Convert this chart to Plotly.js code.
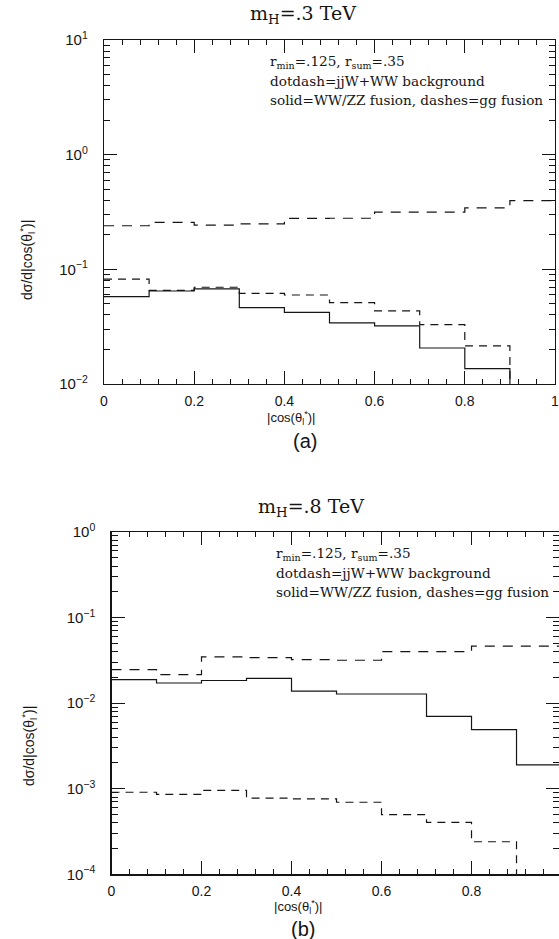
<!DOCTYPE html>
<html><head><meta charset="utf-8">
<script src="https://cdn.plot.ly/plotly-3.0.1.min.js"></script>
<style>html,body{margin:0;padding:0;background:#fff;} #chart{width:559px;height:939px;}</style>
</head><body><div id="chart"></div>
<script>
// ---- data ----
const binEdges = [0, 0.1, 0.2, 0.3, 0.4, 0.5, 0.6, 0.7, 0.8, 0.9, 1.0];

// panel (a): m_H = .3 TeV
const topBackground = [0.240, 0.257, 0.243, 0.249, 0.278, 0.279, 0.316, 0.316, 0.343, 0.397];
const topWWZZ       = [0.0577, 0.0647, 0.0675, 0.0463, 0.0422, 0.0341, 0.0321, 0.0206, 0.0136, 0];
const topGG         = [0.082, 0.0655, 0.0698, 0.0618, 0.0597, 0.0512, 0.0435, 0.033, 0.0215, 0];

// panel (b): m_H = .8 TeV
const botBackground = [0.0247, 0.0215, 0.0348, 0.0340, 0.0323, 0.0317, 0.0400, 0.0400, 0.0464, 0.0464];
const botWWZZ       = [0.0188, 0.0172, 0.0184, 0.0195, 0.0138, 0.0128, 0.0128, 0.0070, 0.0049, 0.0019];
const botGG         = [0.00091, 0.000857, 0.000955, 0.000776, 0.000763, 0.000695, 0.000499, 0.000405, 0.00024, 0];

const xTickVals = [0, 0.2, 0.4, 0.6, 0.8, 1];
const xTickText = ['0', '0.2', '0.4', '0.6', '0.8', '1'];
const topYTickVals = [0.01, 0.1, 1, 10];
const topYTickText = ['10<sup>−2</sup>', '10<sup>−1</sup>', '10<sup>0</sup>', '10<sup>1</sup>'];
const botYTickVals = [0.0001, 0.001, 0.01, 0.1, 1];
const botYTickText = ['10<sup>−4</sup>', '10<sup>−3</sup>', '10<sup>−2</sup>', '10<sup>−1</sup>', '10<sup>0</sup>'];

const titleTop = 'm<sub>H</sub>=.3 TeV';
const titleBot = 'm<sub>H</sub>=.8 TeV';
const noteLines = ['r<sub>min</sub>=.125, r<sub>sum</sub>=.35',
                   'dotdash=jjW+WW background',
                   'solid=WW/ZZ fusion, dashes=gg fusion'];
const xTitle = '|cos(θ<sub>l</sub><sup>*</sup>)|';
const yTitle = 'dσ/d|cos(θ<sub>l</sub><sup>*</sup>)|';

// ---- helpers ----
const FLOOR = 1e-9; // empty bins fall below the log axis floor
function stepY(vals) {
  const y = vals.map(v => (v > 0 ? v : FLOOR));
  y.push(y[y.length - 1]);
  return y;
}
function minorLin() { const a = []; for (let i = 0; i <= 25; i++) { if (i % 5) a.push(+(i * 0.04).toFixed(2)); } return a; }
function minorLog(lo, hi) { const a = []; for (let k = lo; k < hi; k++) for (let d = 2; d <= 9; d++) a.push(d * Math.pow(10, k)); return a; }

const INK = '#151515';
const serif = 'DejaVu Serif, serif';
const sans = 'Liberation Sans, Arial, sans-serif';

function tr(y, xa, ya, dash) {
  return { x: binEdges, y: stepY(y), xaxis: xa, yaxis: ya, mode: 'lines', hoverinfo: 'skip',
           line: { shape: 'hv', color: INK, width: 1.2, dash: dash } };
}
const data = [
  tr(topBackground, 'x', 'y', '10px,8px'),
  tr(topGG, 'x', 'y', '8px,6px'),
  tr(topWWZZ, 'x', 'y', 'solid'),
  tr(botBackground, 'x2', 'y2', '10px,8px'),
  tr(botGG, 'x2', 'y2', '8px,6px'),
  tr(botWWZZ, 'x2', 'y2', 'solid')
];

const W = 559, H = 939;
const px = v => v / W, py = v => 1 - v / H;

function xAxis(domain, range, anchor) {
  return { domain: domain, range: range, anchor: anchor, tickmode: 'array', tickvals: xTickVals, ticktext: xTickText,
    ticks: 'inside', ticklen: 13, tickwidth: 1, tickcolor: INK, showline: true, linecolor: INK, linewidth: 1.2,
    mirror: 'ticks', showgrid: false, zeroline: false, ticklabelstandoff: 4, ticklabeloverflow: 'allow',
    tickfont: { family: sans, size: 14, color: INK },
    minor: { tickmode: 'array', tickvals: minorLin(), ticks: 'inside', ticklen: 5, tickcolor: INK, showgrid: false } };
}
function yAxis(domain, range, anchor, vals, text, lo, hi) {
  return { type: 'log', domain: domain, range: range, anchor: anchor, tickmode: 'array', tickvals: vals, ticktext: text,
    ticks: 'inside', ticklen: 13, tickwidth: 1, tickcolor: INK, showline: true, linecolor: INK, linewidth: 1.2,
    mirror: 'ticks', showgrid: false, zeroline: false, ticklabelstandoff: 12,
    tickfont: { family: sans, size: 15, color: INK },
    minor: { tickmode: 'array', tickvals: minorLog(lo, hi), ticks: 'inside', ticklen: 6, tickcolor: INK, showgrid: false } };
}

function ann(text, x, y, font, extra) {
  return Object.assign({ text: text, x: px(x), y: py(y), xref: 'paper', yref: 'paper', showarrow: false,
    xanchor: 'center', yanchor: 'middle', font: font }, extra || {});
}
const annotations = [
  ann(titleTop, 303, 15, { family: serif, size: 19, color: INK }),
  ann(titleBot, 311, 507, { family: serif, size: 19, color: INK }),
  ann(xTitle, 291, 418, { family: sans, size: 13, color: INK }),
  ann(xTitle, 298, 907, { family: sans, size: 13, color: INK }),
  ann('(a)', 305, 441, { family: sans, size: 20, color: INK }),
  ann('(b)', 303, 929, { family: sans, size: 20, color: INK }),
  ann(yTitle, 27, 260, { family: sans, size: 14, color: INK }, { textangle: -90 }),
  ann(yTitle, 29, 746, { family: sans, size: 14, color: INK }, { textangle: -90 })
];
[62, 81, 100].forEach((yy, i) => annotations.push(ann(noteLines[i], 268, yy, { family: serif, size: 13.6, color: INK }, { xanchor: 'left' })));
[554, 573, 592].forEach((yy, i) => annotations.push(ann(noteLines[i], 274, yy, { family: serif, size: 13.6, color: INK }, { xanchor: 'left' })));

const layout = {
  width: W, height: H, autosize: false, showlegend: false,
  margin: { l: 0, r: 0, t: 0, b: 0, pad: 0 },
  paper_bgcolor: '#fff', plot_bgcolor: '#fff',
  xaxis: xAxis([px(104), px(555)], [0, 1], 'y'),
  yaxis: yAxis([py(384), py(40)], [-2, 1], 'x', topYTickVals, topYTickText, -2, 1),
  xaxis2: xAxis([px(111.5), 1], [0, 0.9944], 'y2'),
  yaxis2: yAxis([py(874.3), py(532)], [-4, 0], 'x2', botYTickVals, botYTickText, -4, 0),
  annotations: annotations
};

Plotly.newPlot('chart', data, layout, { staticPlot: true, displayModeBar: false });
</script>
</body></html>
